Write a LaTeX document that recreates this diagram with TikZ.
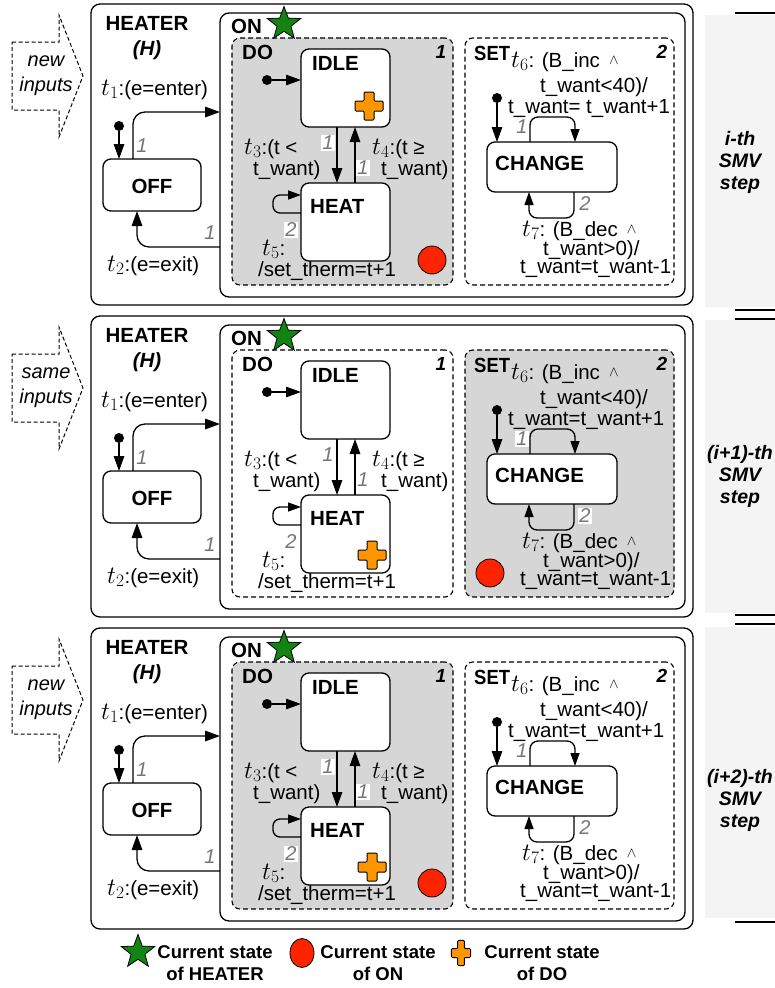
\RequirePackage{fix-cm}
\documentclass[tikz,border=0pt]{standalone}
\usepackage[no-math]{fontspec}
\setmainfont{Liberation Sans}
\usetikzlibrary{arrows.meta,shapes.geometric}
\definecolor{shade}{RGB}{214,214,214}
\definecolor{sidegray}{RGB}{244,244,244}
\definecolor{stargreen}{RGB}{18,132,18}
\definecolor{dotred}{RGB}{255,36,0}
\definecolor{crossorange}{RGB}{255,150,0}
\definecolor{numgray}{RGB}{118,118,118}
\newcommand{\fA}{\fontsize{20.5}{23}\selectfont}
\newcommand{\fT}{\fontsize{25}{25}\selectfont}
\newcommand{\tlab}[1]{{\fT$t_{#1}$}}
\newcommand{\andsym}{\,\raisebox{3pt}{$\scriptstyle\wedge$}}
\tikzset{
  box/.style={draw, line width=1.3pt, rounded corners=9pt, fill=white, inner sep=0pt, outer sep=0pt},
  dbox/.style={draw, line width=1.1pt, dash pattern=on 5pt off 3pt, rounded corners=8pt, inner sep=0pt, outer sep=0pt},
  state/.style={draw, line width=1.3pt, rounded corners=8pt, fill=white, inner sep=0pt, outer sep=0pt},
  arr/.style={line width=1.3pt, -{Triangle[length=15pt,width=10.5pt]}},
  sarr/.style={line width=1.3pt, -{Triangle[length=13pt,width=9pt]}},
  initdot/.style={circle, fill=black, inner sep=0pt, outer sep=0pt, minimum size=10pt},
  ttl/.style={inner sep=0pt, font=\fA\bfseries},
  lbl/.style={inner sep=0pt, font=\fA},
  prio/.style={inner sep=0pt, anchor=base, font=\fontsize{19}{19}\selectfont\bfseries\itshape},
  gnum/.style={inner sep=1pt, fill=white, text=numgray, font=\fontsize{20}{20}\selectfont\itshape},
  inarrow/.style={line width=1pt, dash pattern=on 4pt off 2.5pt},
  intext/.style={inner sep=0pt, align=center, font=\fontsize{20}{25}\selectfont\itshape},
  curstar/.style={star, star points=5, star point ratio=2.4, minimum size=35pt, inner sep=0pt, fill=stargreen, draw, line width=0.8pt},
  curcirc/.style={circle, minimum size=28pt, inner sep=0pt, fill=dotred, draw, line width=0.8pt},
  sidetext/.style={inner sep=0pt, align=center, font=\fontsize{19.5}{22}\selectfont\bfseries\itshape},
  legtext/.style={inner sep=0pt, align=center, font=\fontsize{18.5}{22}\selectfont\bfseries},
  pics/plus/.style={code={
    \draw[fill=crossorange, line width=1pt, rounded corners=1pt]
      (-5,-14) -- (5,-14) -- (5,-5) -- (14,-5) -- (14,5) -- (5,5) -- (5,14)
      -- (-5,14) -- (-5,5) -- (-14,5) -- (-14,-5) -- (-5,-5) -- cycle;}}
}
% #1 y shift, #2 suffix, #3 DO fill, #4 SET fill, #5 input word,
% #6 cross position, #7 circle position, #8 t6 third line
\newcommand{\heaterpanel}[8]{%
\begin{scope}[shift={(0,#1)}]
  \draw[inarrow] (12,42) -- (59,42) -- (59,15) -- (83,76) -- (59,137) -- (59,110) -- (12,110) -- cycle;
  \node[intext] (input#2) at (46,76) {#5\\inputs};
  \node[box, minimum width=602pt, minimum height=301pt, anchor=north west] (heater#2) at (91,4) {};
  \node[box, minimum width=465pt, minimum height=284pt, anchor=north west] (on#2) at (220,13) {};
  \node[dbox, fill=#3, minimum width=221pt, minimum height=247pt, anchor=north west] (do#2) at (232,38) {};
  \node[dbox, fill=#4, minimum width=209pt, minimum height=247pt, anchor=north west] (set#2) at (465,38) {};
  \node[ttl, anchor=base] (heatername#2) at (147,30) {HEATER};
  \node[ttl, anchor=base, font=\fA\bfseries\itshape] (heaterh#2) at (147,55) {(H)};
  \node[ttl, anchor=base west] (onname#2) at (231,33) {ON};
  \node[curstar] (star#2) at (284,24) {};
  \node[ttl, anchor=base west] (doname#2) at (242,59) {DO};
  \node[prio] (doprio#2) at (441,58) {1};
  \node[ttl, anchor=base west] (setname#2) at (474,60) {\scalebox{0.9}[1]{SET}};
  \node[prio] (setprio#2) at (662,58) {2};
  % states
  \node[state, minimum width=98pt, minimum height=52pt] (off#2) at (152,185) {};
  \node[ttl, anchor=base] (offname#2) at (152,193) {OFF};
  \node[state, minimum width=89pt, minimum height=78pt] (idle#2) at (345.5,88) {};
  \node[ttl, anchor=base west] (idlename#2) at (312,70) {IDLE};
  \node[state, minimum width=89pt, minimum height=78pt] (heat#2) at (345.5,222) {};
  \node[ttl, anchor=base west] (heatname#2) at (310,213) {HEAT};
  \node[state, minimum width=130pt, minimum height=50pt] (change#2) at (552,167) {};
  \node[ttl, anchor=base west] (changename#2) at (495,170) {CHANGE};
  % markers
  \pic at #6 {plus};
  \node[curcirc] (circ#2) at #7 {};
  % initial transitions
  \node[initdot] (offinit#2) at (119,126) {};
  \draw[arr] (offinit#2) -- (offinit#2 |- off#2.north);
  \node[initdot] (doinit#2) at (267,80) {};
  \draw[arr] (doinit#2) -- (doinit#2 -| idle#2.west);
  \node[initdot] (setinit#2) at (497,98) {};
  \draw[arr] (setinit#2) -- (setinit#2 |- change#2.north);
  % transitions
  \coordinate (t1end#2) at (220,112);
  \draw[arr, rounded corners=12pt] ([xshift=-19pt]off#2.north) |- (t1end#2);
  \coordinate (t2start#2) at (220,247);
  \draw[arr, rounded corners=12pt] (t2start#2) -| ([xshift=-15pt]off#2.south);
  \draw[arr] ([xshift=-8.5pt]idle#2.south) -- ([xshift=-8.5pt]heat#2.north);
  \draw[arr] ([xshift=9.5pt]heat#2.north) -- ([xshift=9.5pt]idle#2.south);
  \draw[sarr, rounded corners=7pt] ([yshift=9pt]heat#2.west) -- ++(-28,0) |- ([yshift=27pt]heat#2.west);
  \draw[sarr, rounded corners=8pt] ([xshift=-22pt]change#2.north) -- ++(0,-25) -| ([xshift=23pt]change#2.north);
  \draw[sarr, rounded corners=8pt] ([xshift=22pt]change#2.south) -- ++(0,26) -| ([xshift=-23pt]change#2.south);
  % priorities
  \node[gnum] (n1#2) at (142,146) {1};
  \node[gnum] (n2#2) at (210,233) {1};
  \node[gnum] (n3#2) at (328,143) {1};
  \node[gnum] (n4#2) at (363,168) {1};
  \node[gnum] (n5#2) at (291,230) {2};
  \node[gnum] (n6#2) at (522,127) {1};
  \node[gnum] (n7#2) at (585,204) {2};
  % labels
  \node[lbl, anchor=base west] (t1lab#2) at (101,95) {\tlab{1}:(e=enter)};
  \node[lbl, anchor=base west] (t2lab#2) at (107,271) {\tlab{2}:(e=exit)};
  \node[lbl, anchor=base west] (t3a#2) at (244,154) {\tlab{3}:(t <};
  \node[lbl, anchor=base west] (t3b#2) at (253,175) {t\_want)};
  \node[lbl, anchor=base west] (t4a#2) at (372,154) {\tlab{4}:(t ≥};
  \node[lbl, anchor=base west] (t4b#2) at (381,175) {t\_want)};
  \node[lbl, anchor=base west] (t5a#2) at (262,255) {\tlab{5}:};
  \node[lbl, anchor=base] (t5b#2) at (327,276) {/set\_therm=t+1};
  \node[lbl, anchor=base west] (t6a#2) at (511,67) {\tlab{6}: (B\_inc \andsym};
  \node[lbl, anchor=base west] (t6b#2) at (540,92) {t\_want<40)/};
  \node[lbl, anchor=base west] (t6c#2) at (508,113) {#8};
  \node[lbl, anchor=base west] (t7a#2) at (522,236) {\tlab{7}: (B\_dec \andsym};
  \node[lbl, anchor=base west] (t7b#2) at (543,255) {t\_want>0)/};
  \node[lbl, anchor=base west] (t7c#2) at (520,273) {t\_want=t\_want-1};
\end{scope}}
\begin{document}
\begin{tikzpicture}[x=1pt, y=-1pt]
  \useasboundingbox (0,0) rectangle (775,988);
  \clip (0,0) rectangle (775,988);
  \fill[white] (0,0) rectangle (775,988);
  % side panels
  \fill[sidegray] (705,15) rectangle (775,307);
  \fill[sidegray] (705,320) rectangle (775,613);
  \fill[sidegray] (705,627) rectangle (775,918);
  \foreach \yy in {13,310,319,615,624,922} \draw[line width=1.2pt] (735,\yy) -- (775,\yy);
  \node[sidetext] (step1) at (740,162) {i-th\\SMV\\step};
  \node[sidetext] (step2) at (740,476) {(i+1)-th\\SMV\\step};
  \node[sidetext] (step3) at (740,800) {(i+2)-th\\SMV\\step};
  % panels
  \heaterpanel{0}{a}{shade}{white}{new}{(369,106)}{(432,260)}{t\_want= t\_want+1}
  \heaterpanel{312}{b}{white}{shade}{same}{(372,243)}{(490,261)}{t\_want=t\_want+1}
  \heaterpanel{624}{c}{shade}{white}{new}{(372,243)}{(432,259)}{t\_want=t\_want+1}
  % legend
  \node[curstar] (legstar) at (138,952) {};
  \node[legtext] (legt1) at (215,963) {Current state\\of HEATER};
  \node[ellipse, minimum width=24pt, minimum height=29pt, inner sep=0pt, fill=dotred, draw, line width=0.8pt] (legcirc) at (302,953) {};
  \node[legtext] (legt2) at (378,963) {Current state\\of ON};
  \pic[xscale=0.68, yscale=0.9] at (461,953) {plus};
  \node[legtext] (legt3) at (542,963) {Current state\\of DO};
\end{tikzpicture}
\end{document}
